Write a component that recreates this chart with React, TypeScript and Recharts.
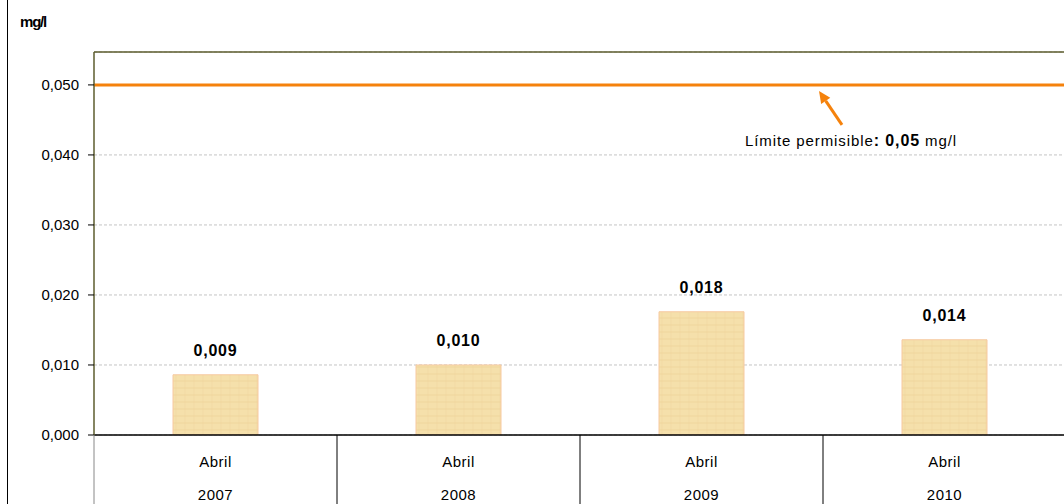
import React from 'react';
import {
  BarChart,
  Bar,
  XAxis,
  YAxis,
  CartesianGrid,
  ReferenceLine,
  LabelList,
} from 'recharts';

const months = ['Abril', 'Abril', 'Abril', 'Abril'];
const years = ['2007', '2008', '2009', '2010'];
const values = [0.0086, 0.01, 0.0176, 0.0136];
const yTicks = [0, 0.01, 0.02, 0.03, 0.04, 0.05];
const limit = 0.05;
const yMax = 0.0547;

const data = years.map((year, i) => ({
  name: `${months[i]} ${year}`,
  month: months[i],
  year,
  value: values[i],
}));

const fmt = (v: number) => v.toFixed(3).replace('.', ',');

const FONT = '"Liberation Sans", Arial, sans-serif';
const ORANGE = '#F5820C';
const OLIVE = '#5C5C2E';

const CategoryTick = (props: any) => {
  const { x, y, payload, index } = props;
  const half = payload?.offset ?? 121.5;
  const d = data[index] || data.find((e) => e.name === payload.value);
  const isLast = index === data.length - 1;
  const txt = { fontSize: 15, fontFamily: FONT, fill: '#000', letterSpacing: 0.5 };
  return (
    <g>
      <line
        x1={x - half}
        x2={x - half}
        y1={y}
        y2={y + 80}
        stroke={index === 0 ? '#888' : '#000'}
        strokeWidth={1}
      />
      {isLast && (
        <line x1={x + half} x2={x + half} y1={y} y2={y + 80} stroke="#000" />
      )}
      <text x={x} y={y + 32} textAnchor="middle" {...txt}>
        {d?.month}
      </text>
      <text x={x} y={y + 65} textAnchor="middle" {...txt}>
        {d?.year}
      </text>
    </g>
  );
};

const LimitLabel = (props: any) => {
  const { viewBox } = props;
  const right = viewBox.x + viewBox.width;
  const y = viewBox.y;
  // arrow tip and tail
  const hx = right - 247;
  const hy = y + 6;
  const tx = right - 224;
  const ty = y + 40;
  const dx = hx - tx;
  const dy = hy - ty;
  const len = Math.sqrt(dx * dx + dy * dy);
  const ux = dx / len;
  const uy = dy / len;
  const bx = hx - ux * 12;
  const by = hy - uy * 12;
  const px = -uy * 5.5;
  const py = ux * 5.5;
  return (
    <g>
      <line x1={tx} y1={ty} x2={bx} y2={by} stroke={ORANGE} strokeWidth={3} />
      <polygon
        points={`${hx},${hy} ${bx + px},${by + py} ${bx - px},${by - py}`}
        fill={ORANGE}
      />
      <text
        x={right - 321}
        y={y + 61}
        fontSize={15}
        fontFamily={FONT}
        fill="#000"
        letterSpacing={0.9}
      >
        Límite permisible
        <tspan fontWeight="bold" fontSize={16}>: {fmt(limit).slice(0, 4)}</tspan> mg/l
      </text>
    </g>
  );
};

export default function App() {
  return (
    <div
      style={{
        position: 'fixed',
        left: 0,
        top: 0,
        width: 1064,
        height: 504,
        overflow: 'hidden',
        background: '#fff',
      }}
    >
      <div
        style={{ position: 'absolute', left: 7, top: 0, width: 1, height: 504, background: '#000' }}
      />
      <div
        style={{
          position: 'absolute',
          left: 20,
          top: 13,
          fontFamily: FONT,
          fontSize: 15,
          fontWeight: 'bold',
          letterSpacing: -1.2,
          lineHeight: '17px',
        }}
      >
        mg/l
      </div>
      <BarChart
        width={1070}
        height={504}
        data={data}
        margin={{ top: 52, right: 4, bottom: 0, left: 0 }}
        barCategoryGap={0}
      >
        <defs>
          <pattern id="papyrus" width="9" height="7" patternUnits="userSpaceOnUse">
            <rect width="9" height="7" fill="#F5E0AB" />
            <line x1="0" y1="3" x2="9" y2="3" stroke="#E6CC90" strokeWidth="1" opacity="0.5" />
            <line x1="5" y1="0" x2="5" y2="7" stroke="#EBD29A" strokeWidth="1" opacity="0.4" />
          </pattern>
        </defs>
        <CartesianGrid vertical={false} stroke="#c4c4c4" strokeDasharray="3 2" />
        <XAxis
          dataKey="name"
          height={69}
          axisLine={{ stroke: '#000', strokeWidth: 1.5 }}
          tickLine={false}
          tickSize={0}
          tickMargin={0}
          tick={<CategoryTick />}
          interval={0}
        />
        <YAxis
          width={94}
          domain={[0, yMax]}
          ticks={yTicks}
          allowDataOverflow
          tickFormatter={fmt}
          axisLine={{ stroke: OLIVE, strokeWidth: 1.5 }}
          tickLine={{ stroke: '#000' }}
          tickSize={6}
          tickMargin={9}
          tick={{ fontSize: 15, fontFamily: FONT, fill: '#000' }}
        />
        <ReferenceLine y={yMax} stroke={OLIVE} strokeWidth={1.5} />
        <Bar
          dataKey="value"
          barSize={85}
          fill="url(#papyrus)"
          stroke="#F7C9A0"
          strokeWidth={1}
          isAnimationActive={false}
        >
          <LabelList
            dataKey="value"
            position="top"
            offset={19}
            formatter={(v: any) => fmt(Number(v))}
            style={{
              fontSize: 16,
              fontWeight: 'bold',
              fontFamily: FONT,
              fill: '#000',
              letterSpacing: 0.8,
            }}
          />
        </Bar>
        <ReferenceLine y={limit} stroke={ORANGE} strokeWidth={3} label={<LimitLabel />} />
      </BarChart>
    </div>
  );
}
